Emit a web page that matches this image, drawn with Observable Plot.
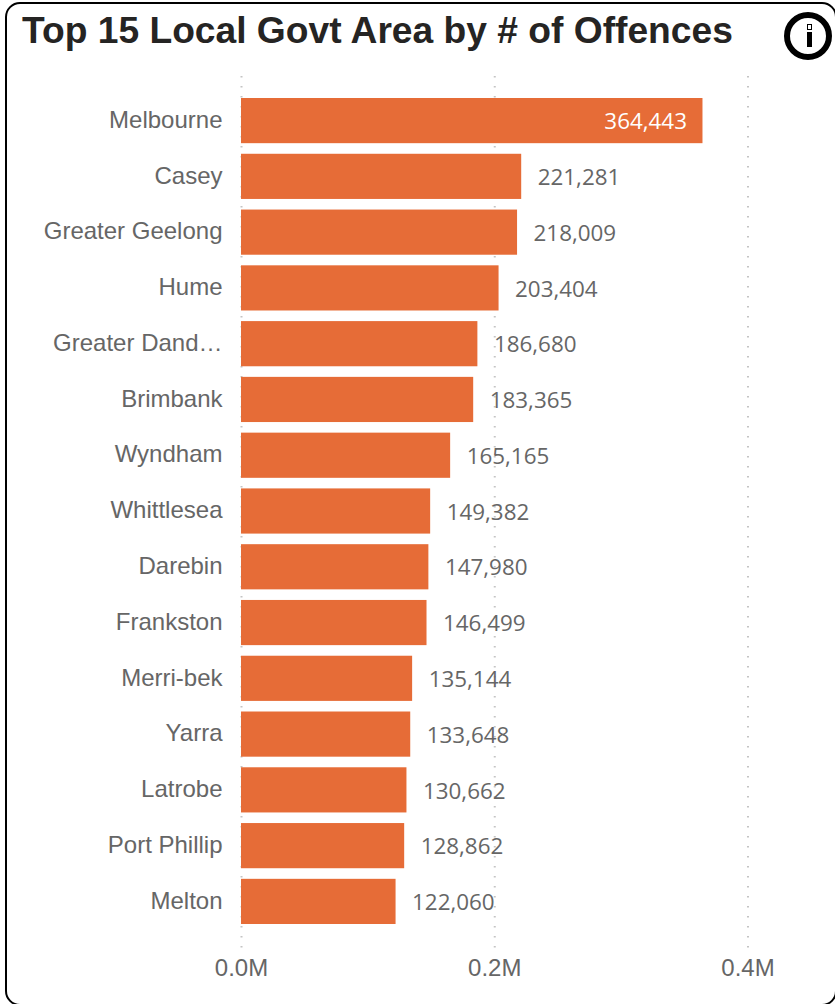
<!DOCTYPE html>
<html>
<head>
<meta charset="utf-8">
<script src="https://cdn.jsdelivr.net/npm/d3@7"></script>
<script src="https://cdn.jsdelivr.net/npm/@observablehq/plot@0.6"></script>
<style>
html,body{margin:0;padding:0;background:#fff;width:835px;height:1004px;overflow:hidden}
#card{position:absolute;left:5px;top:2px;width:832px;height:1004px;border:2.5px solid #000;border-radius:15px;box-sizing:border-box}
#title{position:absolute;left:22px;top:8px;height:44px;font:bold 37.2px/44px "Liberation Sans",Arial,sans-serif;color:#252423;white-space:nowrap}
#chart{position:absolute;left:0;top:62px}
#info{position:absolute;left:784px;top:12px;width:48px;height:48px;border:6px solid #000;border-radius:50%;box-sizing:border-box;background:#fff}
#info .dot{position:absolute;left:16.5px;top:5.5px;width:5px;height:6px;border:1.5px solid #000;box-sizing:border-box}
#info .stem{position:absolute;left:16.5px;top:14px;width:5px;height:15px;background:#000}
</style>
</head>
<body>
<div id="card"></div>
<div id="title">Top 15 Local Govt Area by # of Offences</div>
<div id="info"><div class="dot"></div><div class="stem"></div></div>
<div id="chart"></div>
<script>
const areas = ["Melbourne","Casey","Greater Geelong","Hume","Greater Dand…","Brimbank","Wyndham","Whittlesea","Darebin","Frankston","Merri-bek","Yarra","Latrobe","Port Phillip","Melton"];
const offences = [364443,221281,218009,203404,186680,183365,165165,149382,147980,146499,135144,133648,130662,128862,122060];
const xTicks = [0,200000,400000];
const insideLabelMin = 300000;

const rows = areas.map((area,i)=>({area,value:offences[i]}));
const fmt = d3.format(",");

const plot = Plot.plot({
  width:835,
  height:942,
  marginLeft:241,
  marginRight:87.5,
  marginTop:14,
  marginBottom:56,
  style:{background:"transparent",fontFamily:"'Liberation Sans',Arial,sans-serif"},
  x:{domain:[0,400000],label:null},
  y:{domain:areas,range:[36,862],round:false,paddingInner:0.19,paddingOuter:0,label:null},
  marks:[
    Plot.gridX(xTicks,{stroke:"#c4c4c4",strokeOpacity:1,strokeWidth:2,strokeDasharray:"1.5 8.5"}),
    Plot.barX(rows,{x:"value",y:"area",fill:"#E66C37"}),
    Plot.axisX({ticks:xTicks,tickSize:0,tickPadding:10,tickFormat:d=>(d/1e6).toFixed(1)+"M",fontSize:24,fill:"#666",label:null,anchor:"bottom"}),
    Plot.axisY({tickSize:0,tickPadding:19,fontSize:24,fill:"#666",label:null,anchor:"left",lineWidth:20,dy:-1}),
    Plot.text(rows.filter(d=>d.value<insideLabelMin),{x:"value",y:"area",text:d=>fmt(d.value),textAnchor:"start",dx:16,dy:1,fill:"#666",fontSize:22.4,fontFamily:"'Open Sans',sans-serif"}),
    Plot.text(rows.filter(d=>d.value>=insideLabelMin),{x:"value",y:"area",text:d=>fmt(d.value),textAnchor:"end",dx:-16,dy:1,fill:"#fff",fontSize:22.4,fontFamily:"'Open Sans',sans-serif"})
  ]
});
document.getElementById("chart").appendChild(plot);
</script>
</body>
</html>
